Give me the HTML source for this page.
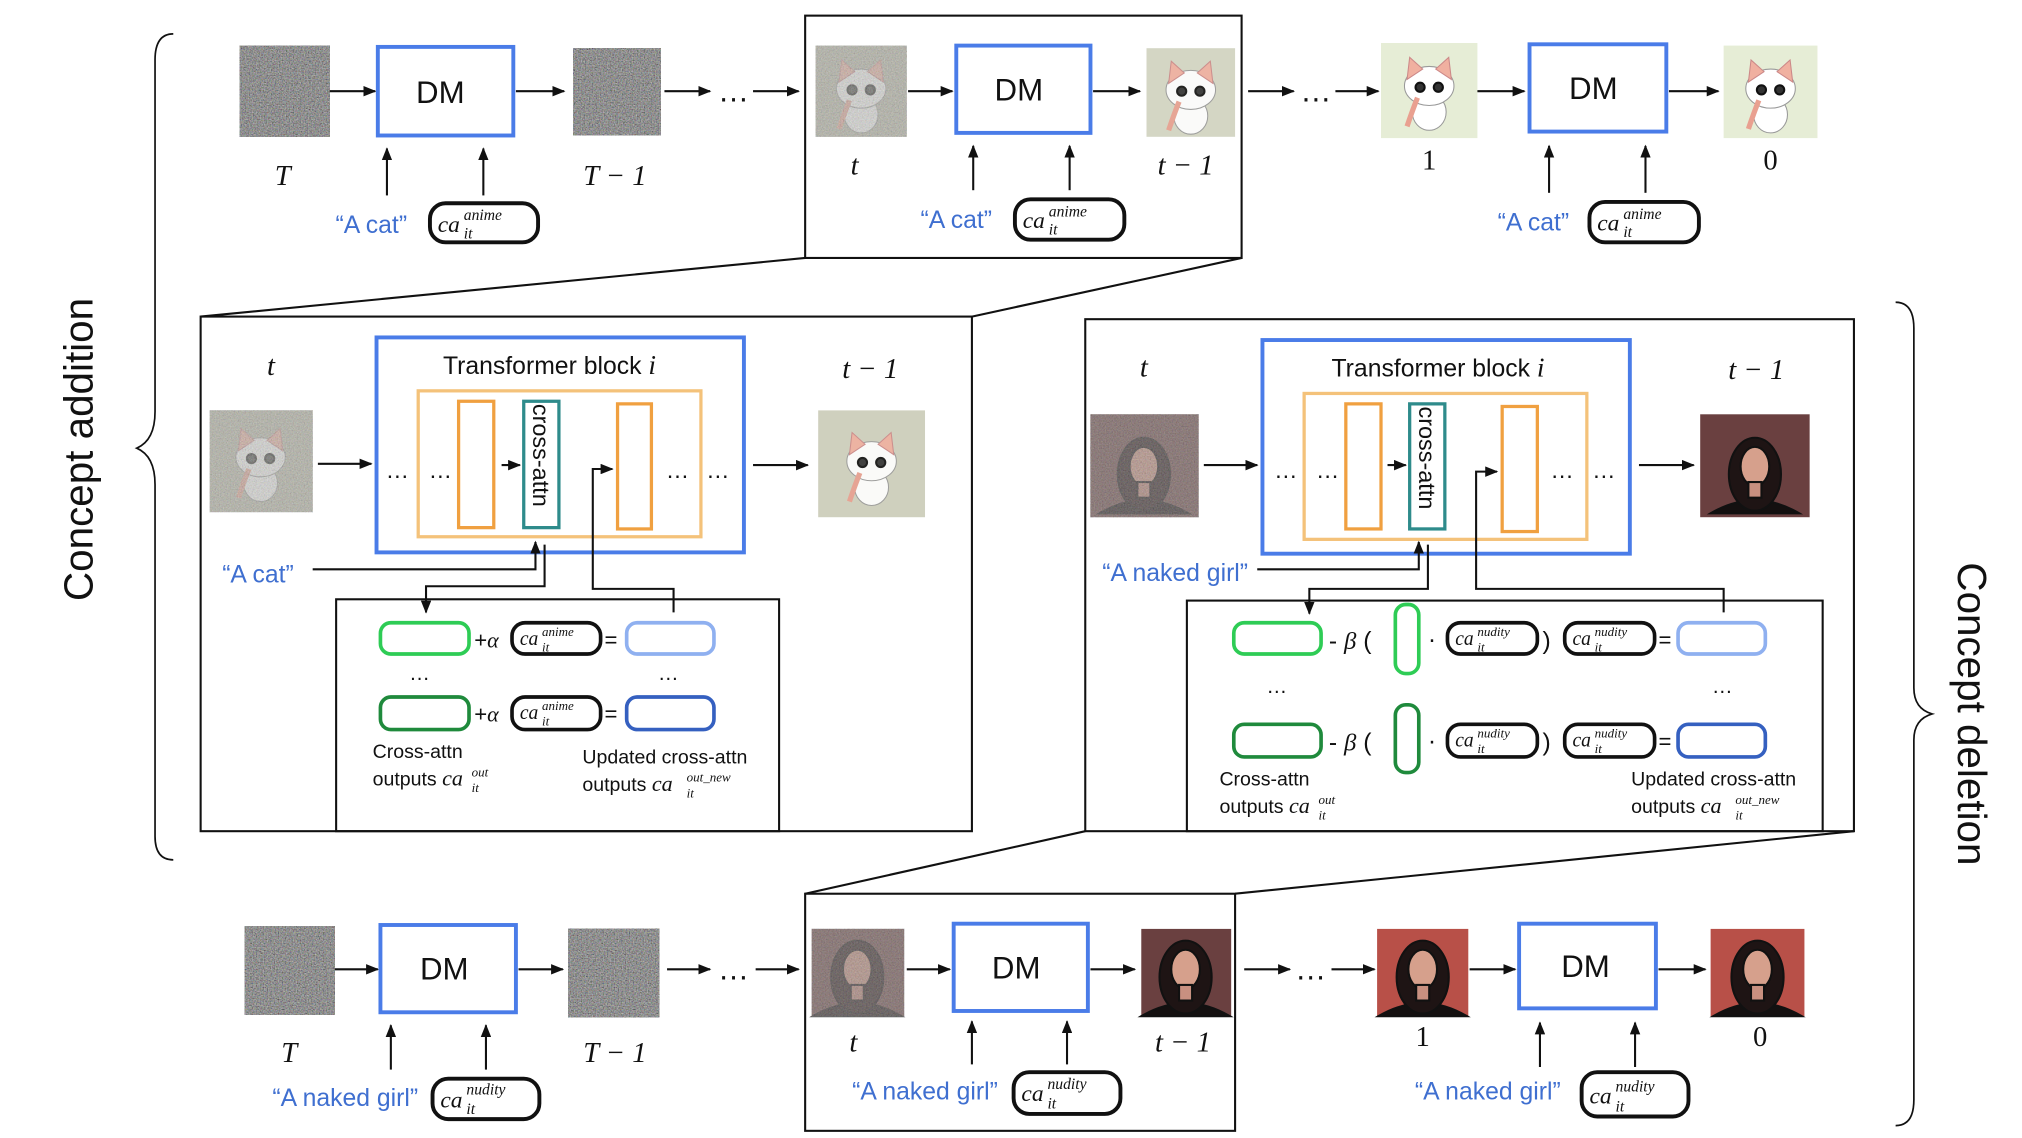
<!DOCTYPE html>
<html><head><meta charset="utf-8"><style>html,body{margin:0;padding:0;background:#fff}svg{display:block}</style></head><body>
<svg width="2022" height="1138" viewBox="0 0 1552 873.5" preserveAspectRatio="none" xmlns="http://www.w3.org/2000/svg">
<defs>
<filter id="nz" x="0" y="0" width="100%" height="100%"><feTurbulence type="fractalNoise" baseFrequency="0.95" numOctaves="2" seed="3"/><feColorMatrix type="matrix" values="0.5 0.25 0.1 0 -0.15  0.15 0.5 0.2 0 -0.15  0.2 0.15 0.5 0 -0.15  0 0 0 0 1"/></filter>
<filter id="nz2" x="0" y="0" width="100%" height="100%"><feTurbulence type="fractalNoise" baseFrequency="0.95" numOctaves="2" seed="7"/><feColorMatrix type="matrix" values="0.5 0.25 0.1 0 0  0.15 0.5 0.2 0 0  0.2 0.15 0.5 0 0  0 0 0 0 0.5"/></filter>
<marker id="a" markerWidth="10" markerHeight="8" refX="9" refY="4" orient="auto" markerUnits="userSpaceOnUse"><path d="M0,0 L10,4 L0,8 z" fill="#111"/></marker>
<g id="cat"><ellipse cx="0" cy="16" rx="13" ry="14" fill="#fff" stroke="#999" stroke-width="0.8"/><ellipse cx="0" cy="-4" rx="19" ry="15" fill="#fff" stroke="#999" stroke-width="0.8"/><path d="M-17,-9 L-15,-26 L-5,-17 Z M17,-9 L15,-26 L5,-17 Z" fill="#f0b0a0" stroke="#c88" stroke-width="0.8"/><circle cx="-7" cy="-3" r="3.5" fill="#333"/><circle cx="7" cy="-3" r="3.5" fill="#333"/><path d="M-9,5 q-4,10 -8,22" stroke="#e9a090" stroke-width="4" fill="none"/></g>
<g id="girl"><path d="M-34,34 q34,-20 68,0 z" fill="#141010"/><ellipse cx="0" cy="4" rx="20" ry="28" fill="#1e1414"/><ellipse cx="0" cy="-2" rx="11" ry="15" fill="#d6a08c"/><rect x="-5" y="10" width="10" height="12" fill="#c89080"/></g>
</defs>
<g font-family="Liberation Sans, sans-serif" fill="none" stroke="#111" stroke-width="1.6">

<path d="M133,26 q-14,0 -14,20 v270 q0,22 -14,28 q14,6 14,28 v270 q0,18 14,18" stroke-width="1.3"/>
<path d="M1455,232 q14,0 14,20 v276 q0,16 14,20 q-14,4 -14,20 v276 q0,20 -14,20" stroke-width="1.3"/>
<text x="0" y="0" transform="translate(71,345) rotate(-90)" text-anchor="middle" font-size="31" fill="#111" stroke="none">Concept addition</text>
<text x="0" y="0" transform="translate(1503,548) rotate(90)" text-anchor="middle" font-size="31" fill="#111" stroke="none">Concept deletion</text>

<rect x="184" y="35" width="69" height="70" fill="#777" stroke="none" filter="url(#nz)"/>
<line x1="253" y1="70" x2="288" y2="70" marker-end="url(#a)"/>
<rect x="290" y="36" width="104" height="68" stroke="#4a7ce8" stroke-width="3"/>
<text x="338" y="79" text-anchor="middle" font-size="24" fill="#111" stroke="none">DM</text>
<line x1="396" y1="70" x2="433" y2="70" marker-end="url(#a)"/>
<rect x="440" y="37" width="67" height="67" fill="#777" stroke="none" filter="url(#nz)"/>
<line x1="510" y1="70" x2="545" y2="70" marker-end="url(#a)"/>
<text x="563" y="78" text-anchor="middle" font-size="24" fill="#111" stroke="none">…</text>
<line x1="578" y1="70" x2="613" y2="70" marker-end="url(#a)"/>
<rect x="618" y="12" width="335" height="186"/>
<rect x="626" y="35" width="70" height="70" fill="#b8b8a8" stroke="none"/>
<use href="#cat" x="661" y="72" opacity="0.7"/>
<rect x="626" y="35" width="70" height="70" stroke="none" fill="#888" filter="url(#nz2)"/>
<line x1="697" y1="70" x2="731" y2="70" marker-end="url(#a)"/>
<rect x="734" y="35" width="103" height="67" stroke="#4a7ce8" stroke-width="3"/>
<text x="782" y="77" text-anchor="middle" font-size="24" fill="#111" stroke="none">DM</text>
<line x1="839" y1="70" x2="875" y2="70" marker-end="url(#a)"/>
<rect x="880" y="37" width="68" height="68" fill="#d4d6c4" stroke="none"/>
<use href="#cat" x="914" y="73" opacity="0.9"/>
<line x1="958" y1="70" x2="993" y2="70" marker-end="url(#a)"/>
<text x="1010" y="78" text-anchor="middle" font-size="24" fill="#111" stroke="none">…</text>
<line x1="1025" y1="70" x2="1058" y2="70" marker-end="url(#a)"/>
<rect x="1060" y="33" width="74" height="73" fill="#e6edd6" stroke="none"/>
<use href="#cat" x="1097" y="70"/>
<line x1="1134" y1="70" x2="1170" y2="70" marker-end="url(#a)"/>
<rect x="1174" y="34" width="105" height="67" stroke="#4a7ce8" stroke-width="3"/>
<text x="1223" y="76" text-anchor="middle" font-size="24" fill="#111" stroke="none">DM</text>
<line x1="1281" y1="70" x2="1319" y2="70" marker-end="url(#a)"/>
<rect x="1323" y="35" width="72" height="71" fill="#e6edd6" stroke="none"/>
<use href="#cat" x="1359" y="72"/>

<g font-family="Liberation Serif, serif" font-style="italic" font-size="22" fill="#111" stroke="none">
<text x="217" y="142" text-anchor="middle">T</text>
<text x="472" y="142" text-anchor="middle">T − 1</text>
<text x="656" y="134" text-anchor="middle">t</text>
<text x="910" y="134" text-anchor="middle">t − 1</text>
<text x="1097" y="130" text-anchor="middle" font-style="normal">1</text>
<text x="1359" y="130" text-anchor="middle" font-style="normal">0</text>
<text x="222" y="815" text-anchor="middle">T</text>
<text x="472" y="815" text-anchor="middle">T − 1</text>
<text x="655" y="807" text-anchor="middle">t</text>
<text x="908" y="807" text-anchor="middle">t − 1</text>
<text x="1092" y="803" text-anchor="middle" font-style="normal">1</text>
<text x="1351" y="803" text-anchor="middle" font-style="normal">0</text>
<text x="208" y="288" text-anchor="middle">t</text>
<text x="668" y="290" text-anchor="middle">t − 1</text>
<text x="878" y="289" text-anchor="middle">t</text>
<text x="1348" y="291" text-anchor="middle">t − 1</text>
</g>

<line x1="297" y1="150" x2="297" y2="114" marker-end="url(#a)"/>
<line x1="371" y1="150" x2="371" y2="114" marker-end="url(#a)"/>
<line x1="747" y1="146" x2="747" y2="112" marker-end="url(#a)"/>
<line x1="821" y1="146" x2="821" y2="112" marker-end="url(#a)"/>
<line x1="1189" y1="148" x2="1189" y2="112" marker-end="url(#a)"/>
<line x1="1263" y1="148" x2="1263" y2="112" marker-end="url(#a)"/>
<g fill="#3f6fd0" stroke="none" font-size="19">
<text x="285" y="179" text-anchor="middle">“A cat”</text>
<text x="734" y="175" text-anchor="middle">“A cat”</text>
<text x="1177" y="177" text-anchor="middle">“A cat”</text>
<text x="198" y="447" text-anchor="middle">“A cat”</text>
<text x="902" y="446" text-anchor="middle">“A naked girl”</text>
<text x="265" y="849" text-anchor="middle">“A naked girl”</text>
<text x="710" y="844" text-anchor="middle">“A naked girl”</text>
<text x="1142" y="844" text-anchor="middle">“A naked girl”</text>
</g>

<g stroke-width="3">
<rect x="330" y="156" width="83" height="30" rx="12"/>
<rect x="779" y="153" width="84" height="31" rx="12"/>
<rect x="1220" y="155" width="84" height="31" rx="12"/>
<rect x="332" y="828" width="82" height="31" rx="12"/>
<rect x="778" y="823" width="82" height="32" rx="12"/>
<rect x="1214" y="823" width="82" height="34" rx="12"/>
</g>
<g font-family="Liberation Serif, serif" font-style="italic" fill="#111" stroke="none">
<g font-size="18"><text x="336" y="178">ca</text><text x="785" y="175">ca</text><text x="1226" y="177">ca</text><text x="338" y="850">ca</text><text x="784" y="845">ca</text><text x="1220" y="847">ca</text></g>
<g font-size="12"><text x="356" y="169">anime</text><text x="805" y="166">anime</text><text x="1246" y="168">anime</text><text x="358" y="840">nudity</text><text x="804" y="836">nudity</text><text x="1240" y="838">nudity</text></g>
<g font-size="12"><text x="356" y="183">it</text><text x="805" y="180">it</text><text x="1246" y="182">it</text><text x="358" y="855">it</text><text x="804" y="851">it</text><text x="1240" y="853">it</text></g>
</g>

<line x1="618" y1="198" x2="154" y2="243"/>
<line x1="953" y1="198" x2="746" y2="243"/>
<line x1="618" y1="686" x2="833" y2="638"/>
<line x1="948" y1="686" x2="1423" y2="638"/>

<rect x="154" y="243" width="592" height="395"/>
<rect x="161" y="315" width="79" height="78" fill="#b8b8a8" stroke="none"/>
<use href="#cat" x="200" y="355" opacity="0.7"/>
<rect x="161" y="315" width="79" height="78" fill="#888" stroke="none" filter="url(#nz2)"/>
<line x1="244" y1="356" x2="285" y2="356" marker-end="url(#a)"/>
<rect x="289" y="259" width="282" height="165" stroke="#4a7ce8" stroke-width="3"/>
<text x="340" y="287" font-size="19" fill="#111" stroke="none">Transformer block <tspan font-family="Liberation Serif, serif" font-style="italic" font-size="21">i</tspan></text>
<rect x="321" y="300" width="217" height="112" stroke="#f4c27a" stroke-width="2.5"/>
<rect x="352" y="308" width="27" height="97" stroke="#f0a040" stroke-width="2.5"/>
<rect x="402" y="308" width="27" height="97" stroke="#2e8b8b" stroke-width="2.5"/>
<text x="0" y="0" transform="translate(409,310) rotate(90)" font-size="18" fill="#111" stroke="none">cross-attn</text>
<rect x="474" y="310" width="26" height="96" stroke="#f0a040" stroke-width="2.5"/>
<g font-size="18" fill="#111" stroke="none"><text x="305" y="367" text-anchor="middle">…</text><text x="338" y="367" text-anchor="middle">…</text><text x="520" y="367" text-anchor="middle">…</text><text x="551" y="367" text-anchor="middle">…</text></g>
<line x1="385" y1="357" x2="399" y2="357" marker-end="url(#a)"/>
<line x1="578" y1="357" x2="620" y2="357" marker-end="url(#a)"/>
<rect x="628" y="315" width="82" height="82" fill="#cfd0be" stroke="none"/>
<use href="#cat" x="669" y="358" opacity="0.9"/>
<polyline points="240,437 411,437 411,416" marker-end="url(#a)"/>
<polyline points="418,418 418,450 327,450 327,470" marker-end="url(#a)"/>
<polyline points="517,470 517,452 455,452 455,360 470,360" marker-end="url(#a)"/>
<rect x="258" y="460" width="340" height="178"/>
<rect x="292" y="478" width="68" height="24" rx="8" stroke="#2ecc55" stroke-width="2.8"/>
<rect x="393" y="478" width="68" height="24" rx="10" stroke-width="2.8"/>
<rect x="481" y="478" width="67" height="24" rx="8" stroke="#8fb0f0" stroke-width="2.8"/>
<rect x="292" y="535" width="68" height="25" rx="8" stroke="#1f8a3c" stroke-width="2.8"/>
<rect x="393" y="535" width="68" height="25" rx="10" stroke-width="2.8"/>
<rect x="481" y="535" width="67" height="25" rx="8" stroke="#3560c0" stroke-width="2.8"/>
<g fill="#111" stroke="none">
<text x="364" y="497" font-size="17">+<tspan font-family="Liberation Serif, serif" font-style="italic">α</tspan></text>
<text x="364" y="554" font-size="17">+<tspan font-family="Liberation Serif, serif" font-style="italic">α</tspan></text>
<text x="464" y="497" font-size="17">=</text><text x="464" y="554" font-size="17">=</text>
<text x="322" y="522" font-size="16" text-anchor="middle">…</text><text x="513" y="522" font-size="16" text-anchor="middle">…</text>
<g font-family="Liberation Serif, serif" font-style="italic"><text x="399" y="495" font-size="15">ca</text><text x="416" y="488" font-size="10">anime</text><text x="416" y="500" font-size="10">it</text>
<text x="399" y="552" font-size="15">ca</text><text x="416" y="545" font-size="10">anime</text><text x="416" y="557" font-size="10">it</text></g>
<text x="286" y="582" font-size="15">Cross-attn</text>
<text x="286" y="603" font-size="15">outputs <tspan font-family="Liberation Serif, serif" font-style="italic" font-size="17">ca</tspan></text>
<text x="362" y="596" font-size="10" font-family="Liberation Serif, serif" font-style="italic">out</text><text x="362" y="608" font-size="10" font-family="Liberation Serif, serif" font-style="italic">it</text>
<text x="447" y="586" font-size="15">Updated cross-attn</text>
<text x="447" y="607" font-size="15">outputs  <tspan font-family="Liberation Serif, serif" font-style="italic" font-size="17">ca</tspan></text>
<text x="527" y="600" font-size="10" font-family="Liberation Serif, serif" font-style="italic">out_new</text><text x="527" y="612" font-size="10" font-family="Liberation Serif, serif" font-style="italic">it</text>
</g>

<rect x="833" y="245" width="590" height="393"/>
<rect x="837" y="318" width="83" height="79" fill="#6a4a48" stroke="none"/>
<use href="#girl" x="878" y="360" opacity="0.75"/>
<rect x="837" y="318" width="83" height="79" fill="#888" stroke="none" filter="url(#nz2)"/>
<line x1="924" y1="357" x2="965" y2="357" marker-end="url(#a)"/>
<rect x="969" y="261" width="282" height="164" stroke="#4a7ce8" stroke-width="3"/>
<text x="1022" y="289" font-size="19" fill="#111" stroke="none">Transformer block <tspan font-family="Liberation Serif, serif" font-style="italic" font-size="21">i</tspan></text>
<rect x="1001" y="302" width="217" height="112" stroke="#f4c27a" stroke-width="2.5"/>
<rect x="1033" y="310" width="27" height="96" stroke="#f0a040" stroke-width="2.5"/>
<rect x="1082" y="310" width="27" height="96" stroke="#2e8b8b" stroke-width="2.5"/>
<text x="0" y="0" transform="translate(1089,312) rotate(90)" font-size="18" fill="#111" stroke="none">cross-attn</text>
<rect x="1153" y="312" width="27" height="96" stroke="#f0a040" stroke-width="2.5"/>
<g font-size="18" fill="#111" stroke="none"><text x="987" y="367" text-anchor="middle">…</text><text x="1019" y="367" text-anchor="middle">…</text><text x="1199" y="367" text-anchor="middle">…</text><text x="1231" y="367" text-anchor="middle">…</text></g>
<line x1="1065" y1="357" x2="1079" y2="357" marker-end="url(#a)"/>
<line x1="1258" y1="357" x2="1300" y2="357" marker-end="url(#a)"/>
<rect x="1305" y="318" width="84" height="79" fill="#6a4040" stroke="none"/>
<use href="#girl" x="1347" y="360"/>
<polyline points="965,437 1089,437 1089,416" marker-end="url(#a)"/>
<polyline points="1096,418 1096,452 1005,452 1005,471" marker-end="url(#a)"/>
<polyline points="1323,470 1323,452 1133,452 1133,362 1149,362" marker-end="url(#a)"/>
<rect x="911" y="461" width="488" height="177"/>
<rect x="947" y="478" width="67" height="24" rx="8" stroke="#2ecc55" stroke-width="2.8"/>
<rect x="1071" y="464" width="18" height="53" rx="8" stroke="#2ecc55" stroke-width="2.8"/>
<rect x="1111" y="478" width="69" height="24" rx="10" stroke-width="2.8"/>
<rect x="1201" y="478" width="69" height="24" rx="10" stroke-width="2.8"/>
<rect x="1288" y="478" width="67" height="24" rx="8" stroke="#8fb0f0" stroke-width="2.8"/>
<rect x="947" y="556" width="67" height="25" rx="8" stroke="#1f8a3c" stroke-width="2.8"/>
<rect x="1071" y="541" width="18" height="52" rx="8" stroke="#1f8a3c" stroke-width="2.8"/>
<rect x="1111" y="556" width="69" height="25" rx="10" stroke-width="2.8"/>
<rect x="1201" y="556" width="69" height="25" rx="10" stroke-width="2.8"/>
<rect x="1288" y="556" width="67" height="25" rx="8" stroke="#3560c0" stroke-width="2.8"/>
<g fill="#111" stroke="none">
<text x="1020" y="498" font-size="19">- <tspan font-family="Liberation Serif, serif" font-style="italic">β</tspan> (</text>
<text x="1020" y="576" font-size="19">- <tspan font-family="Liberation Serif, serif" font-style="italic">β</tspan> (</text>
<text x="1096" y="497" font-size="19">·</text><text x="1096" y="575" font-size="19">·</text>
<text x="1184" y="498" font-size="19">)</text><text x="1184" y="576" font-size="19">)</text>
<text x="1273" y="497" font-size="17">=</text><text x="1273" y="575" font-size="17">=</text>
<text x="980" y="532" font-size="16" text-anchor="middle">…</text><text x="1322" y="532" font-size="16" text-anchor="middle">…</text>
<g font-family="Liberation Serif, serif" font-style="italic">
<text x="1117" y="495" font-size="15">ca</text><text x="1134" y="488" font-size="10">nudity</text><text x="1134" y="500" font-size="10">it</text>
<text x="1207" y="495" font-size="15">ca</text><text x="1224" y="488" font-size="10">nudity</text><text x="1224" y="500" font-size="10">it</text>
<text x="1117" y="573" font-size="15">ca</text><text x="1134" y="566" font-size="10">nudity</text><text x="1134" y="578" font-size="10">it</text>
<text x="1207" y="573" font-size="15">ca</text><text x="1224" y="566" font-size="10">nudity</text><text x="1224" y="578" font-size="10">it</text>
</g>
<text x="936" y="603" font-size="15">Cross-attn</text>
<text x="936" y="624" font-size="15">outputs <tspan font-family="Liberation Serif, serif" font-style="italic" font-size="17">ca</tspan></text>
<text x="1012" y="617" font-size="10" font-family="Liberation Serif, serif" font-style="italic">out</text><text x="1012" y="629" font-size="10" font-family="Liberation Serif, serif" font-style="italic">it</text>
<text x="1252" y="603" font-size="15">Updated cross-attn</text>
<text x="1252" y="624" font-size="15">outputs  <tspan font-family="Liberation Serif, serif" font-style="italic" font-size="17">ca</tspan></text>
<text x="1332" y="617" font-size="10" font-family="Liberation Serif, serif" font-style="italic">out_new</text><text x="1332" y="629" font-size="10" font-family="Liberation Serif, serif" font-style="italic">it</text>
</g>

<rect x="188" y="711" width="69" height="68" fill="#777" stroke="none" filter="url(#nz)"/>
<line x1="257" y1="744" x2="290" y2="744" marker-end="url(#a)"/>
<rect x="292" y="710" width="104" height="67" stroke="#4a7ce8" stroke-width="3"/>
<text x="341" y="752" text-anchor="middle" font-size="24" fill="#111" stroke="none">DM</text>
<line x1="398" y1="744" x2="432" y2="744" marker-end="url(#a)"/>
<rect x="436" y="713" width="70" height="68" fill="#6e6262" stroke="none" filter="url(#nz)"/>
<line x1="512" y1="744" x2="545" y2="744" marker-end="url(#a)"/>
<text x="563" y="752" text-anchor="middle" font-size="24" fill="#111" stroke="none">…</text>
<line x1="580" y1="744" x2="613" y2="744" marker-end="url(#a)"/>
<rect x="618" y="686" width="330" height="182"/>
<rect x="623" y="713" width="71" height="67" fill="#6a4a48" stroke="none"/>
<use href="#girl" x="658" y="746" opacity="0.7"/>
<rect x="623" y="713" width="71" height="67" fill="#888" stroke="none" filter="url(#nz2)"/>
<line x1="696" y1="744" x2="729" y2="744" marker-end="url(#a)"/>
<rect x="732" y="709" width="103" height="67" stroke="#4a7ce8" stroke-width="3"/>
<text x="780" y="751" text-anchor="middle" font-size="24" fill="#111" stroke="none">DM</text>
<line x1="837" y1="744" x2="871" y2="744" marker-end="url(#a)"/>
<rect x="876" y="713" width="69" height="67" fill="#6a4040" stroke="none"/>
<use href="#girl" x="910" y="746"/>
<line x1="955" y1="744" x2="990" y2="744" marker-end="url(#a)"/>
<text x="1006" y="752" text-anchor="middle" font-size="24" fill="#111" stroke="none">…</text>
<line x1="1022" y1="744" x2="1055" y2="744" marker-end="url(#a)"/>
<rect x="1057" y="713" width="70" height="67" fill="#b85048" stroke="none"/>
<use href="#girl" x="1092" y="746"/>
<line x1="1128" y1="744" x2="1163" y2="744" marker-end="url(#a)"/>
<rect x="1166" y="709" width="105" height="65" stroke="#4a7ce8" stroke-width="3"/>
<text x="1217" y="750" text-anchor="middle" font-size="24" fill="#111" stroke="none">DM</text>
<line x1="1273" y1="744" x2="1309" y2="744" marker-end="url(#a)"/>
<rect x="1313" y="713" width="72" height="67" fill="#b85048" stroke="none"/>
<use href="#girl" x="1349" y="746"/>
<line x1="300" y1="821" x2="300" y2="787" marker-end="url(#a)"/>
<line x1="373" y1="821" x2="373" y2="787" marker-end="url(#a)"/>
<line x1="746" y1="817" x2="746" y2="784" marker-end="url(#a)"/>
<line x1="819" y1="817" x2="819" y2="784" marker-end="url(#a)"/>
<line x1="1182" y1="819" x2="1182" y2="785" marker-end="url(#a)"/>
<line x1="1255" y1="819" x2="1255" y2="785" marker-end="url(#a)"/>
</g>
</svg>
</body></html>
